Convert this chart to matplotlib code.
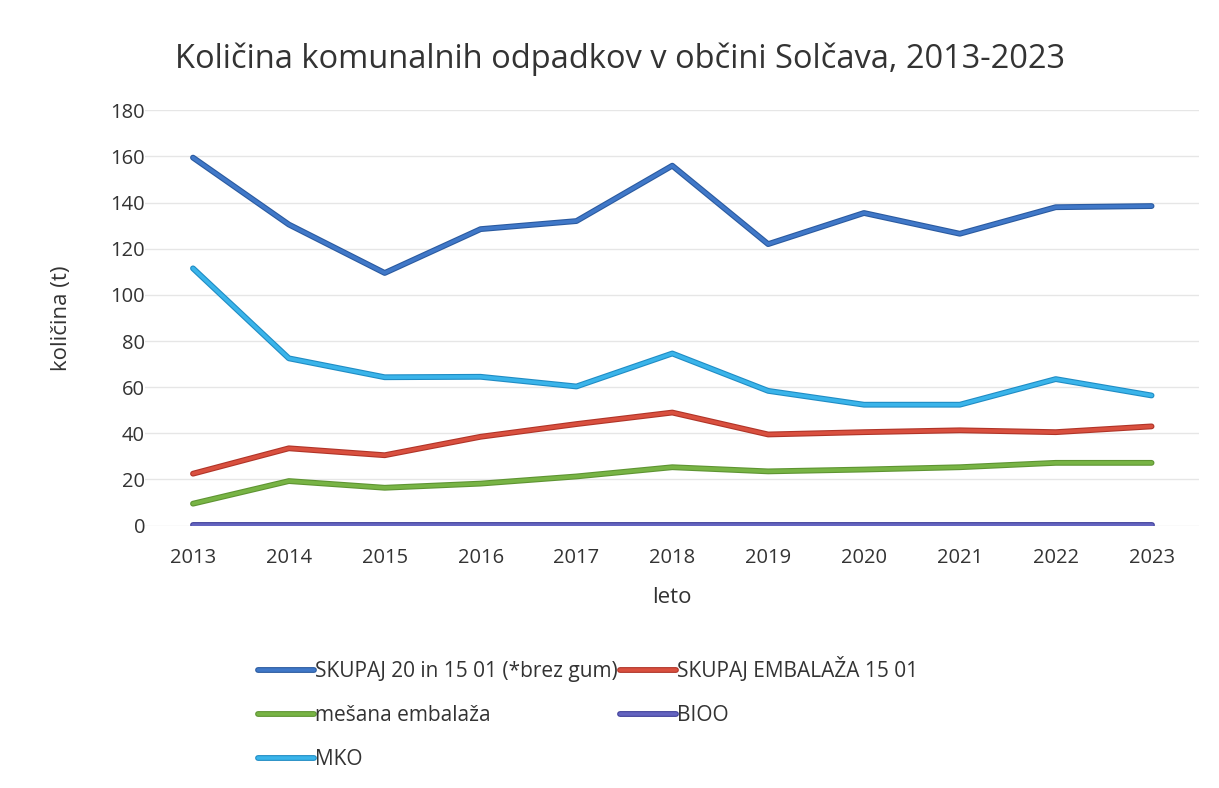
import matplotlib
matplotlib.use("Agg")
import matplotlib.pyplot as plt
import matplotlib.patheffects as pe

plt.rcParams["font.family"] = ["Open Sans", "DejaVu Sans"]

years = ["2013", "2014", "2015", "2016", "2017", "2018", "2019", "2020", "2021", "2022", "2023"]
skupaj = [159.5, 130.5, 109.5, 128.5, 132, 156, 122, 135.5, 126.5, 138, 138.5]
embalaza = [22.5, 33.5, 30.5, 38.5, 44, 49, 39.5, 40.5, 41.3, 40.5, 43]
mesana = [9.5, 19.3, 16.4, 18.2, 21.3, 25.3, 23.5, 24.3, 25.3, 27.2, 27.2]
bioo = [0.3, 0.3, 0.3, 0.3, 0.3, 0.3, 0.3, 0.3, 0.3, 0.3, 0.3]
mko = [111.5, 72.5, 64.3, 64.5, 60.3, 74.6, 58.4, 52.4, 52.4, 63.5, 56.4]

series = [
    ("SKUPAJ 20 in 15 01 (*brez gum)", skupaj, "#4078c8", "#2a5aa0"),
    ("SKUPAJ EMBALAŽA 15 01", embalaza, "#d9503f", "#b03428"),
    ("mešana embalaža", mesana, "#78b445", "#5e9432"),
    ("BIOO", bioo, "#6464c0", "#40409a"),
    ("MKO", mko, "#3ab4ea", "#1f8cc4"),
]

fig = plt.figure(figsize=(12.19, 7.88), dpi=100)
ax = fig.add_axes([0.119, 0.333, 0.865, 0.527])

handles = {}
x = range(len(years))
for label, vals, col, edge in series:
    (ln,) = ax.plot(x, vals, color=col, lw=2.6, solid_capstyle="round",
                    solid_joinstyle="round", label=label, zorder=3,
                    path_effects=[pe.Stroke(linewidth=4.2, foreground=edge), pe.Normal()])
    handles[label] = ln

ax.set_xlim(-0.5, len(years) - 0.5)
ax.set_ylim(0, 180)
ax.set_yticks(range(0, 181, 20))
ax.set_xticks(list(x))
ax.set_xticklabels(years)
ax.grid(axis="y", color="#e6e6e6", lw=1)
ax.set_axisbelow(True)
for s in ax.spines.values():
    s.set_visible(False)
ax.tick_params(length=0, labelsize=14.5, colors="#333333")
ax.tick_params(axis="x", pad=16)
ax.tick_params(axis="y", pad=0)
ax.set_xlabel("leto", fontsize=16, color="#333333", labelpad=14)
ax.set_ylabel("količina (t)", fontsize=16, color="#333333", labelpad=28)
fig.text(0.509, 0.925, "Količina komunalnih odpadkov v občini Solčava, 2013-2023",
         fontsize=23.5, color="#333333", ha="center", va="center")

# legend: two columns, filled column-wise
order = ["SKUPAJ 20 in 15 01 (*brez gum)", "mešana embalaža", "MKO",
         "SKUPAJ EMBALAŽA 15 01", "BIOO"]
fig.legend([handles[k] for k in order], order, ncol=2, loc="upper left",
           bbox_to_anchor=(0.196, 0.19), frameon=False, fontsize=15,
           handlelength=2.7, handletextpad=0.05, columnspacing=0.1,
           labelspacing=1.1, labelcolor="#333333")

fig.savefig("out.png", dpi=100)
